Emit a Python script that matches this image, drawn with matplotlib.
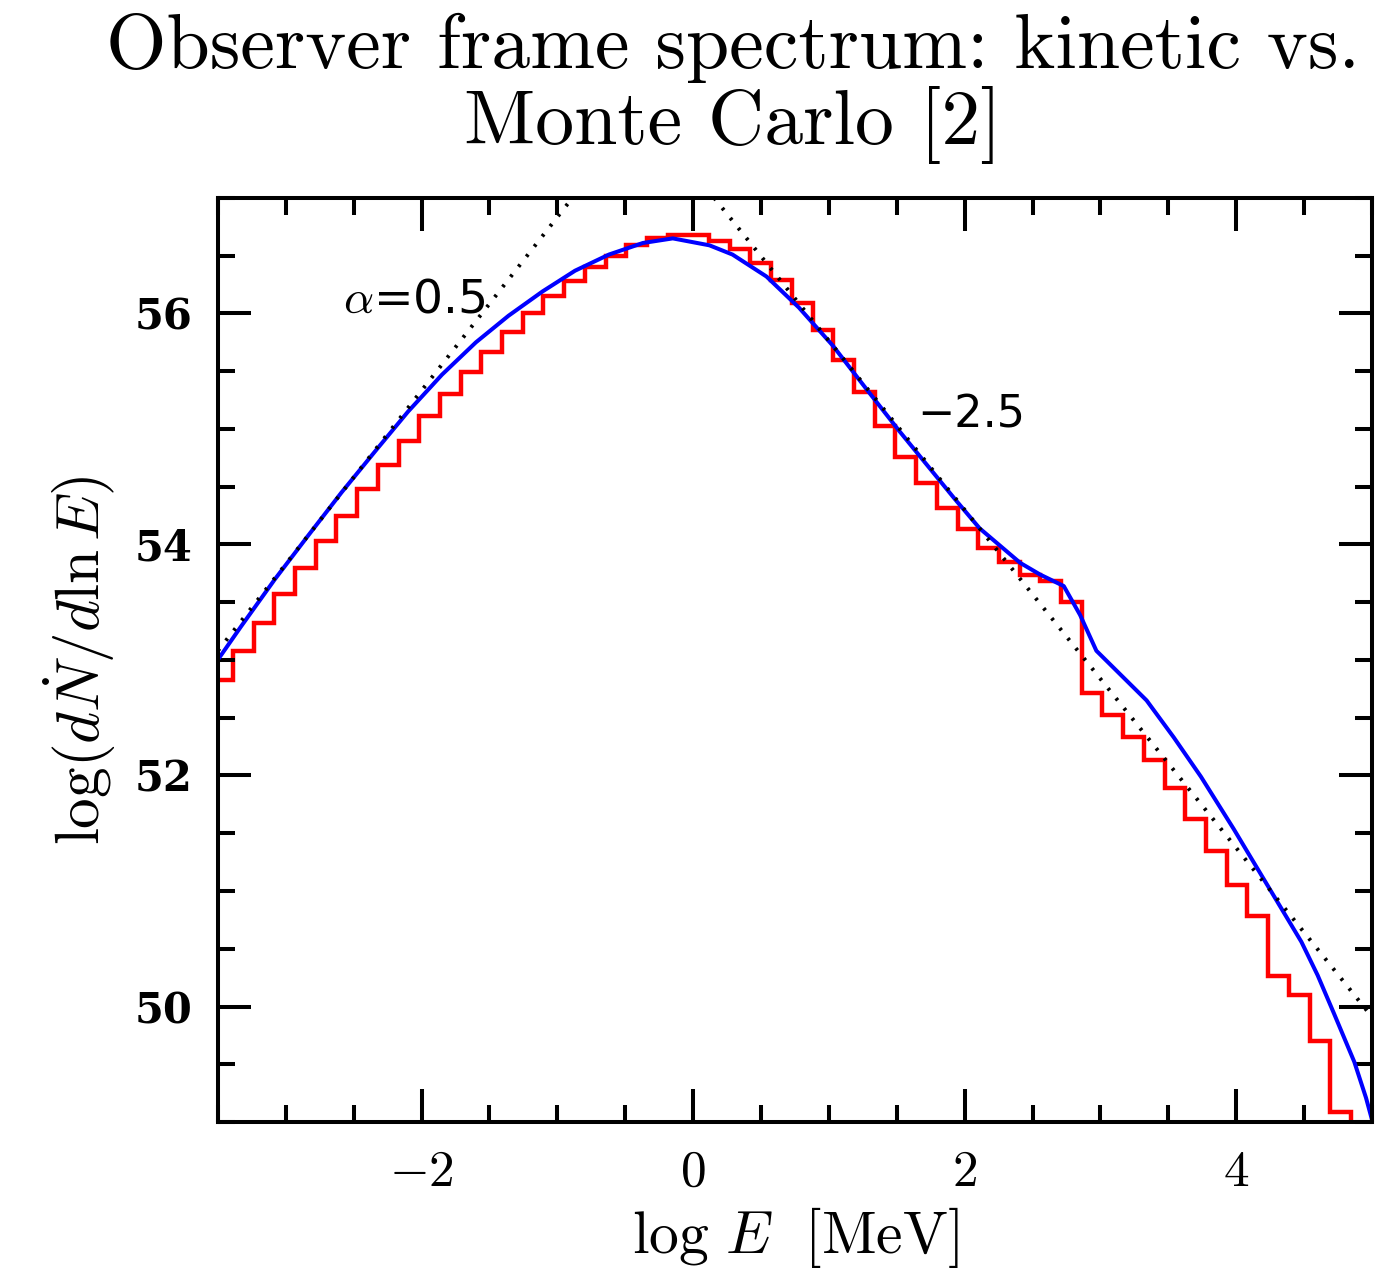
import numpy as np
import matplotlib
matplotlib.use("Agg")
import matplotlib.pyplot as plt
from matplotlib.ticker import MultipleLocator

plt.rcParams["mathtext.fontset"] = "cm"
plt.rcParams["axes.formatter.use_mathtext"] = True

# Monte Carlo histogram (red steps), log E bins
bin_lo = -3.5425
bin_width = 0.1525
mc_values = [52.83, 53.08, 53.32, 53.57, 53.80, 54.03, 54.25, 54.48, 54.69, 54.90,
             55.11, 55.30, 55.49, 55.67, 55.84, 56.00, 56.15, 56.28, 56.40, 56.50,
             56.59, 56.65, 56.68, 56.68, 56.63, 56.56, 56.44, 56.29, 56.09, 55.86,
             55.60, 55.32, 55.03, 54.76, 54.53, 54.32, 54.13, 53.97, 53.85, 53.74,
             53.68, 53.50, 52.71, 52.52, 52.33, 52.13, 51.89, 51.62, 51.35, 51.05,
             50.78, 50.26, 50.10, 49.70, 49.09]

# kinetic solution (blue)
kin_logE = [-3.49, -3.33, -3.08, -2.84, -2.59, -2.34, -2.10, -1.85, -1.60, -1.36,
            -1.11, -0.87, -0.62, -0.37, -0.15, 0.12, 0.29, 0.54, 0.78, 1.03,
            1.28, 1.52, 1.77, 1.93, 2.11, 2.26, 2.41, 2.555, 2.73, 2.85,
            2.97, 3.34, 3.54, 3.74, 3.98, 4.23, 4.48, 4.60, 4.72, 4.87, 4.956, 5.00]
kin_val = [53.02, 53.29, 53.70, 54.07, 54.45, 54.81, 55.15, 55.47, 55.75, 55.98,
           56.19, 56.37, 56.51, 56.61, 56.65, 56.59, 56.51, 56.32, 56.05, 55.72,
           55.34, 54.98, 54.62, 54.39, 54.14, 53.99, 53.84, 53.74, 53.64, 53.39,
           53.08, 52.65, 52.33, 51.99, 51.54, 51.05, 50.56, 50.27, 49.94, 49.52, 49.21, 49.02]

# asymptotic power laws (dotted)
low_logE = [-3.5, -0.85]
low_val = [53.08, 57.06]
high_logE = [0.155, 5.0]
high_val = [57.0, 49.91]

xticks = [-2, 0, 2, 4]
xtick_labels = ["$-2$", "$0$", "$2$", "$4$"]
yticks = [50, 52, 54, 56]
ytick_labels = ["50", "52", "54", "56"]

fig = plt.figure(figsize=(13.75, 12.73), dpi=100)
ax = fig.add_axes([0.1585, 0.1186, 0.8393, 0.7259])

edges = bin_lo + bin_width * np.arange(len(mc_values) + 1)
ax.stairs(mc_values, edges, baseline=48, color="red", lw=3.2)
ax.plot(kin_logE, kin_val, color="blue", lw=2.9, solid_joinstyle="round")
ax.plot(low_logE, low_val, color="black", lw=2.8, ls=(0, (0.7, 2.6)))
ax.plot(high_logE, high_val, color="black", lw=2.8, ls=(0, (0.7, 2.6)))

ax.text(-2.578, 56.01, r"$\alpha$=0.5", fontsize=34, family="DejaVu Sans",
        va="baseline", ha="left")
ax.text(1.654, 55.01, "\u22122.5", fontsize=32, family="DejaVu Sans",
        va="baseline", ha="left")

ax.set_xlim(-3.5, 5)
ax.set_ylim(49, 57)
ax.set_xticks(xticks)
ax.set_xticklabels(xtick_labels, fontsize=37)
ax.set_yticks(yticks)
ax.set_yticklabels(ytick_labels, fontsize=30, family="DejaVu Serif", weight="bold")
ax.xaxis.set_minor_locator(MultipleLocator(0.5))
ax.yaxis.set_minor_locator(MultipleLocator(0.5))
ax.tick_params(which="both", direction="in", top=True, right=True, width=2.9)
ax.tick_params(which="major", length=24, pad=18)
ax.tick_params(which="minor", length=12)
for s in ax.spines.values():
    s.set_linewidth(2.9)

ax.set_xlabel(r"$\log\,E\ \ [\mathrm{MeV}]$", fontsize=43, labelpad=6)
ax.set_ylabel(r"$\log(d\dot{N}/d\ln E)$", fontsize=44, labelpad=12)

fig.text(0.533, 0.99, "Observer frame spectrum: kinetic vs.\nMonte Carlo [2]",
         family="cmr10", fontsize=56, ha="center", va="top", linespacing=1.05)

fig.savefig("out.png", dpi=100)
